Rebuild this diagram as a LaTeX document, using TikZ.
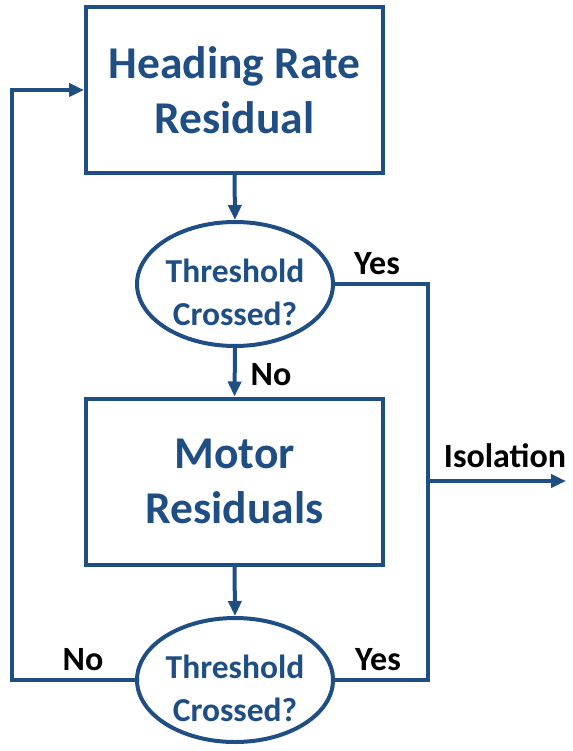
\documentclass[tikz,border=0pt]{standalone}
\usepackage{fontspec}
\setmainfont{Carlito}
\usetikzlibrary{shapes.geometric,arrows.meta}
\definecolor{flowblue}{HTML}{1F4E84}
\tikzset{
  x=1pt, y=-1pt,
  flow/.style={draw=flowblue, line width=4pt},
  procbox/.style={flow, rectangle, minimum width=297pt, minimum height=166pt,
    inner sep=0pt, align=center, text=flowblue,
    font=\fontsize{45.5}{55}\selectfont\bfseries},
  decision/.style={flow, ellipse, minimum width=196pt, minimum height=124pt,
    inner sep=0pt},
  decisiontext/.style={inner sep=0pt, align=center, text=flowblue,
    font=\fontsize{33.5}{43}\selectfont\bfseries},
  conn/.style={flow, line join=miter},
  arr/.style={conn, -{Triangle[length=15pt,width=13pt]}},
  lbl/.style={font=\fontsize{34}{40}\selectfont\bfseries, text=black, inner sep=0pt}
}
\begin{document}
\begin{tikzpicture}
\useasboundingbox (0,0) rectangle (572,751);

% process boxes and decisions
\node[procbox]  (hrr)  at (234.5,90)  {Heading Rate\\Residual};
\node[decision] (th1)  at (235,284)   {};
\node[decisiontext] (th1txt) at (235,292) {Threshold\\Crossed?};
\node[procbox]  (mot)  at (234.5,481.5) {Motor\\Residuals};
\node[decision] (th2)  at (235,680)   {};
\node[decisiontext] (th2txt) at (235,688) {Threshold\\Crossed?};

% helper points on the outer routes
\coordinate (yesbus) at (428,481);
\coordinate (isoend) at (566,481);
\coordinate (loop)   at (12,680);

% main flow
\draw[arr] (hrr.south) -- (th1.north);
\draw[arr] (th1.south) -- (mot.north);
\draw[arr] (mot.south) -- (th2.north);

% "Yes" branches join the isolation bus
\draw[conn] (th1.east) -| (yesbus);
\draw[conn] (th2.east) -| (yesbus);
\draw[arr] (yesbus) -- (isoend);

% "No" branch loops back to the top
\draw[arr] (th2.west) -- (loop) |- (hrr.west);

% branch labels
\node[lbl] (lyes1) at (377,264) {Yes};
\node[lbl] (lno1)  at (271,375) {No};
\node[lbl] (liso)  at (505,456) {Isolation};
\node[lbl] (lno2)  at (83,660)  {No};
\node[lbl] (lyes2) at (378,660) {Yes};
\end{tikzpicture}
\end{document}
